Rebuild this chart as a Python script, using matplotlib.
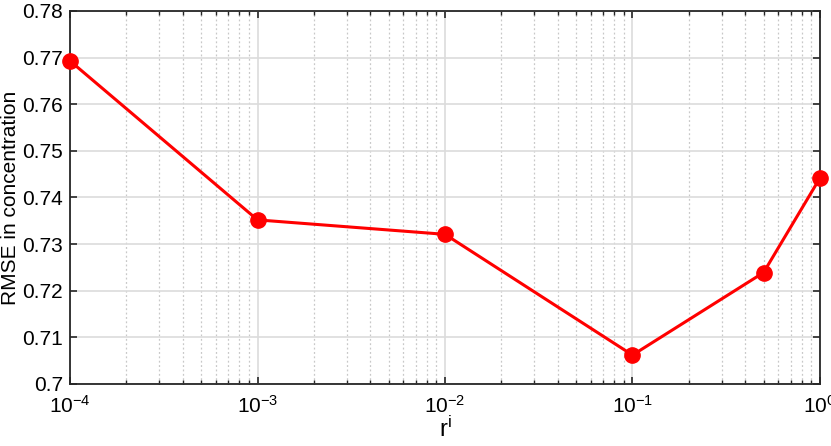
import numpy as np
import matplotlib.pyplot as plt
from matplotlib.ticker import LogLocator, NullFormatter, FixedLocator

# data
r_vals = [1e-4, 1e-3, 1e-2, 1e-1, 0.5, 1.0]
rmse = [0.7693, 0.7352, 0.7321, 0.7062, 0.7239, 0.7442]
y_ticks = [0.70, 0.71, 0.72, 0.73, 0.74, 0.75, 0.76, 0.77, 0.78]
y_labels = ['0.7', '0.71', '0.72', '0.73', '0.74', '0.75', '0.76', '0.77', '0.78']
x_ticks = [1e-4, 1e-3, 1e-2, 1e-1, 1]
x_labels = [r'$10^{\mathregular{-4}}$', r'$10^{\mathregular{-3}}$', r'$10^{\mathregular{-2}}$',
            r'$10^{\mathregular{-1}}$', r'$10^{0}$']

plt.rcParams['font.family'] = ['Liberation Sans', 'DejaVu Sans']
plt.rcParams['mathtext.fontset'] = 'custom'
plt.rcParams['mathtext.rm'] = 'Liberation Sans'
plt.rcParams['mathtext.it'] = 'Liberation Sans'

fig = plt.figure(figsize=(8.31, 4.46), dpi=100)
ax = fig.add_axes([70/831, 1 - 384/446, 750/831, 373/446])

ax.plot(r_vals, rmse, color='#ff0000', lw=2.2, marker='o', ms=11,
        clip_on=False, zorder=5)

ax.set_xscale('log')
ax.set_xlim(1e-4, 1)
ax.set_ylim(0.7, 0.78)
ax.set_yticks(y_ticks)
ax.set_yticklabels(y_labels)
ax.xaxis.set_major_locator(FixedLocator(x_ticks))
ax.set_xticklabels(x_labels)
ax.xaxis.set_minor_locator(LogLocator(base=10, subs=np.arange(2, 10), numticks=20))
ax.xaxis.set_minor_formatter(NullFormatter())

ax.grid(True, which='major', color='#dcdcdc', lw=1.2, ls='-')
ax.grid(True, which='minor', axis='x', color='#c8c8c8', lw=0.9, ls=(0, (1.5, 2)))
ax.set_axisbelow(True)

ax.tick_params(which='both', direction='in', top=True, right=True,
               labelsize=15, color='#262626')
ax.tick_params(axis='y', pad=5)
ax.tick_params(axis='x', pad=8)
ax.tick_params(which='major', length=5, width=1.2)
ax.tick_params(which='minor', length=3, width=1)
for s in ax.spines.values():
    s.set_color('#262626')
    s.set_linewidth(1.3)

ax.set_ylabel('RMSE in concentration', fontsize=15, labelpad=2)
ax.set_xlabel(r'$\mathregular{r^i}$', fontsize=17, labelpad=0)

fig.savefig('out.png', dpi=100)
